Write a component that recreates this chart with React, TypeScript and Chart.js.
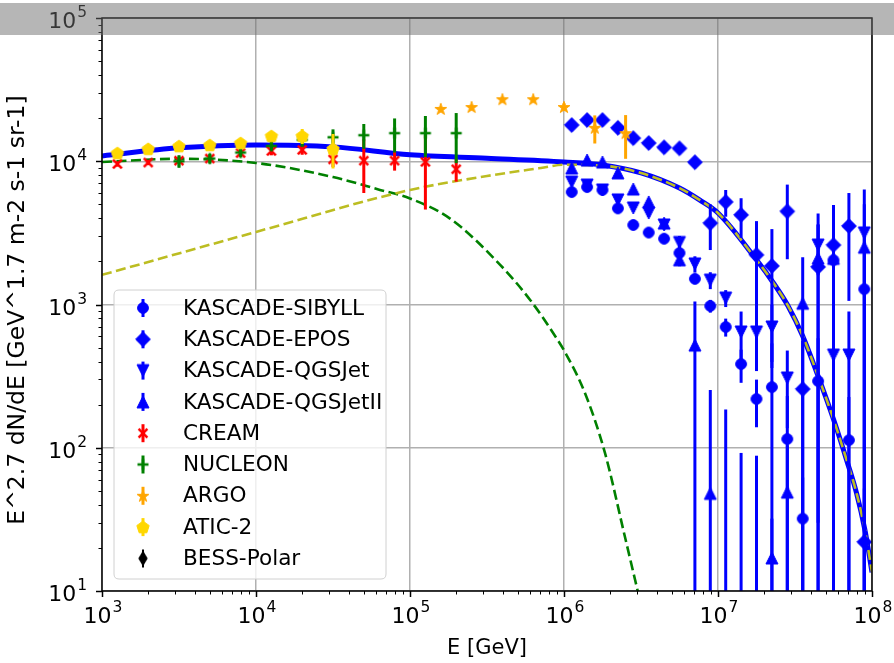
import React, { useEffect, useRef } from 'react';
import { Chart, registerables } from 'chart.js';
Chart.register(...registerables);

// ---------------- data ----------------
const KASCADE_E = [1122018, 1412538, 1778279, 2238721, 2818383, 3548134, 4466836, 5623413, 7079458, 8912509, 11220185, 14125375, 17782794, 22387211, 28183829, 35481339, 44668359, 56234133, 70794578, 89125094];
const SIBYLL = [6100, 6610, 6300, 4690, 3590, 3180, 2880, 2290, 1510, 977, 697, 384, 219, 265, 115, 32, 292, 2040, 113, 1280];
const SIBYLL_ERR = [200, 200, 200, 200, 150, 150, 150, 120, 120, 100, 100, 100, 80, 270, 115, 30, 290, 2100, 113, 1300];
const EPOS = [17900, 19400, 19400, 17100, 14500, 13400, 12500, 12300, 9850, 3700, 5200, 4220, 2220, 1860, 4470, 257, 1830, 2600, 3530, 22];
const EPOS_ERR = [600, 700, 700, 600, 500, 500, 500, 500, 500, 1300, 1100, 1300, 1600, 1500, 2400, 300, 1800, 2350, 2470, 30];
const QGSJET = [7160, 6820, 6300, 5370, 4720, 4350, 3590, 2710, 1920, 1480, 1110, 643, 643, 697, 307, null, 2600, 444, 444, 3160];
const QGSJET_ERR = [250, 250, 250, 250, 250, 250, 250, 300, 250, 200, 150, 250, 300, 300, 170, 0, 1000, 450, 450, 3200];
const QGSJETII = [8970, 10200, 9880, 8290, 6400, 5200, 3700, 2050, 521, 48, 5, 5, 5, 17, 49, 1020, 2110, 2100, null, 2510];
const QGSJETII_ERR = [300, 300, 300, 300, 300, 250, 250, 200, 530, 205, 180, 87, 83, 15, 55, 1120, 2200, 2000, 0, 2500];

const CREAM_E = [1259, 1995, 3162, 5012, 7943, 12589, 19953, 31623, 50119, 79433, 125893, 199526];
const CREAM = [9570, 9800, 10100, 10450, 11400, 11800, 12000, 10300, 10100, 10100, 9900, 8800];
const CREAM_ERR = [400, 400, 500, 600, 700, 800, 900, 1200, 4100, 1500, 5300, 1600];

const NUCLEON_E = [3162, 5012, 7943, 12589, 19953, 31623, 50119, 79433, 125893, 199526];
const NUCLEON = [10000, 10450, 11500, 12800, 14100, 14700, 15200, 15700, 15700, 15700];
const NUCLEON_ERR = [1000, 800, 700, 900, 1500, 2000, 3000, 4200, 5000, 6000];

const ARGO_E = [158489, 251189, 398107, 630957, 1000000, 1584893, 2511886];
const ARGO = [23200, 23900, 27100, 27100, 23900, 17100, 15700];
const ARGO_ERR = [700, 700, 800, 900, 1500, 3800, 5300];

const ATIC_E = [1259, 1995, 3162, 5012, 7943, 12589, 19953, 31623];
const ATIC = [11400, 12200, 12750, 12960, 13400, 15000, 15000, 12200];
const ATIC_ERR = [300, 300, 400, 500, 800, 1100, 1800, 3300];

const TOTAL_E = [1e3, 3162, 1e4, 31623, 1e5, 316228, 1e6, 1778279, 3162278, 5623413, 7585776, 1e7, 17782794, 22908677, 28510000, 35481339, 44668359, 56234133, 69183097, 79432823, 90157114, 1e8];
const TOTAL = [10900, 12400, 13000, 12600, 11100, 10500, 9890, 9420, 8290, 6500, 5370, 4350, 2050, 1413, 977, 603, 316, 158, 79, 48, 26.3, 13.5];

const LIGHT_E = [1e3, 1e4, 1e5, 316228, 707946, 1e6, 1778279, 3162278, 5623413, 7585776, 1e7, 17782794, 22908677, 28510000, 35481339, 44668359, 56234133, 69183097, 79432823, 90157114, 1e8];
const LIGHT = [1610, 3210, 6300, 7890, 8970, 9450, 9320, 8280, 6500, 5370, 4350, 2050, 1413, 977, 603, 316, 158, 79, 48, 26.3, 13.5];

const HEAVY_E = [1e3, 3162, 1e4, 31623, 63826, 1e5, 181970, 383707, 601174, 874984, 1014000, 1367729, 1845015, 2488857, 3118890];
const HEAVY = [9890, 10400, 9730, 7760, 6310, 5500, 3980, 1900, 1080, 603, 466, 241, 92, 23.8, 8.5];

const X_MAJOR = [1e3, 1e4, 1e5, 1e6, 1e7, 1e8];
const X_EXPONENTS = ['3', '4', '5', '6', '7', '8'];
const Y_MAJOR = [1e1, 1e2, 1e3, 1e4, 1e5];
const Y_EXPONENTS = ['1', '2', '3', '4', '5'];

const LEGEND_NAMES = ['KASCADE-SIBYLL', 'KASCADE-EPOS', 'KASCADE-QGSJet', 'KASCADE-QGSJetII', 'CREAM', 'NUCLEON', 'ARGO', 'ATIC-2', 'BESS-Polar'];
const X_TITLE = 'E [GeV]';
const Y_TITLE = 'E^2.7 dN/dE [GeV^1.7 m-2 s-1 sr-1]';

// ---------------- styling ----------------
const FONT = "'DejaVu Sans', 'Liberation Sans', sans-serif";
const BLUE = '#0000ff';
const RED = '#ff0000';
const GREEN = '#008000';
const ORANGE = '#ffa500';
const GOLD = '#ffd700';
const OLIVE = '#bcbd22';

type Kind = 'circle' | 'diamond' | 'triup' | 'tridown' | 'x' | 'plus' | 'star' | 'pentagon' | 'thindiamond';

function makeMarker(kind: Kind, color: string): HTMLCanvasElement {
  const S = 22;
  const c = document.createElement('canvas');
  c.width = S; c.height = S;
  const g = c.getContext('2d')!;
  const cx = S / 2, cy = S / 2;
  g.fillStyle = color; g.strokeStyle = color; g.lineWidth = 1;
  g.beginPath();
  const poly = (pts: number[][]) => { pts.forEach((p, i) => (i ? g.lineTo(cx + p[0], cy + p[1]) : g.moveTo(cx + p[0], cy + p[1]))); g.closePath(); };
  if (kind === 'circle') {
    g.arc(cx, cy, 5.4, 0, Math.PI * 2);
  } else if (kind === 'diamond') {
    poly([[0, -7.4], [7.4, 0], [0, 7.4], [-7.4, 0]]);
  } else if (kind === 'triup') {
    poly([[0, -6], [6, 6], [-6, 6]]);
  } else if (kind === 'tridown') {
    poly([[0, 6], [6, -6], [-6, -6]]);
  } else if (kind === 'pentagon') {
    const pts: number[][] = [];
    for (let i = 0; i < 5; i++) { const a = -Math.PI / 2 + i * 2 * Math.PI / 5; pts.push([6.5 * Math.cos(a), 6.5 * Math.sin(a) + 0.5]); }
    poly(pts);
  } else if (kind === 'star') {
    const pts: number[][] = [];
    for (let i = 0; i < 10; i++) { const r = i % 2 ? 2.4 : 6.2; const a = -Math.PI / 2 + i * Math.PI / 5; pts.push([r * Math.cos(a), r * Math.sin(a) + 0.5]); }
    poly(pts);
  } else if (kind === 'thindiamond') {
    poly([[0, -7], [4.2, 0], [0, 7], [-4.2, 0]]);
  }
  if (kind === 'x' || kind === 'plus') {
    g.lineWidth = 2.6;
    g.lineCap = 'butt';
    if (kind === 'x') { g.moveTo(cx - 4.4, cy - 4.4); g.lineTo(cx + 4.4, cy + 4.4); g.moveTo(cx + 4.4, cy - 4.4); g.lineTo(cx - 4.4, cy + 4.4); }
    else { g.moveTo(cx - 5.5, cy); g.lineTo(cx + 5.5, cy); g.moveTo(cx, cy - 5.5); g.lineTo(cx, cy + 5.5); }
    g.stroke();
  } else {
    g.fill(); g.stroke();
  }
  return c;
}

const LEGEND_STYLE: { kind: Kind; color: string }[] = [
  { kind: 'circle', color: BLUE },
  { kind: 'diamond', color: BLUE },
  { kind: 'tridown', color: BLUE },
  { kind: 'triup', color: BLUE },
  { kind: 'x', color: RED },
  { kind: 'plus', color: GREEN },
  { kind: 'star', color: ORANGE },
  { kind: 'pentagon', color: GOLD },
  { kind: 'thindiamond', color: '#000000' },
];

function pts(xs: number[], ys: (number | null)[]) {
  return xs.map((x, i) => ({ x, y: ys[i] }));
}

const errorBarPlugin = {
  id: 'errbars',
  beforeDatasetDraw(chart: any, args: any) {
    const ds = chart.data.datasets[args.index];
    if (!ds.errs) return;
    const { ctx, chartArea: a, scales } = chart;
    ctx.save();
    ctx.beginPath();
    ctx.rect(a.left, a.top, a.right - a.left, a.bottom - a.top);
    ctx.clip();
    ctx.strokeStyle = ds.errColor;
    ctx.lineWidth = 3;
    ds.data.forEach((p: any, i: number) => {
      if (p.y == null) return;
      const e = ds.errs[i];
      if (!e) return;
      const x = scales.x.getPixelForValue(p.x);
      const lo = p.y - e;
      const y1 = lo > 0 ? scales.y.getPixelForValue(lo) : a.bottom + 5;
      const y2 = scales.y.getPixelForValue(p.y + e);
      ctx.beginPath();
      ctx.moveTo(x, y1);
      ctx.lineTo(x, y2);
      ctx.stroke();
    });
    ctx.restore();
  },
};

function drawPow(ctx: CanvasRenderingContext2D, exp: string, x: number, baseY: number, align: 'center' | 'right') {
  ctx.font = `22px ${FONT}`;
  const w1 = ctx.measureText('10').width;
  ctx.font = `15.5px ${FONT}`;
  const w2 = ctx.measureText(exp).width;
  const total = w1 + w2 + 1;
  const x0 = align === 'center' ? x - total / 2 : x - total;
  ctx.textAlign = 'left';
  ctx.textBaseline = 'alphabetic';
  ctx.font = `22px ${FONT}`;
  ctx.fillText('10', x0, baseY);
  ctx.font = `15.5px ${FONT}`;
  ctx.fillText(exp, x0 + w1 + 1, baseY - 11);
}

const axesPlugin = {
  id: 'axesDeco',
  afterDraw(chart: any) {
    const { ctx, chartArea: a, scales } = chart;
    const xs = scales.x, ys = scales.y;
    ctx.save();
    ctx.strokeStyle = '#000';
    X_MAJOR.forEach((v) => {
      for (let m = 1; m <= 9; m++) {
        const val = v * m;
        if (val > 1e8 * 1.0001) break;
        const px = Math.round(xs.getPixelForValue(val)) + 0.5;
        const major = m === 1;
        ctx.lineWidth = major ? 1.5 : 1;
        ctx.beginPath();
        ctx.moveTo(px, a.bottom);
        ctx.lineTo(px, a.bottom + (major ? 6 : 3.5));
        ctx.stroke();
      }
    });
    Y_MAJOR.forEach((v) => {
      for (let m = 1; m <= 9; m++) {
        const val = v * m;
        if (val > 1e5 * 1.0001) break;
        const py = Math.round(ys.getPixelForValue(val)) + 0.5;
        const major = m === 1;
        ctx.lineWidth = major ? 1.5 : 1;
        ctx.beginPath();
        ctx.moveTo(a.left - (major ? 6 : 3.5), py);
        ctx.lineTo(a.left, py);
        ctx.stroke();
      }
    });
    ctx.lineWidth = 1.5;
    ctx.strokeRect(a.left, a.top, a.right - a.left, a.bottom - a.top);
    ctx.fillStyle = '#000';
    X_MAJOR.forEach((v, i) => drawPow(ctx, X_EXPONENTS[i], xs.getPixelForValue(v) + 1, a.bottom + 32, 'center'));
    Y_MAJOR.forEach((v, i) => drawPow(ctx, Y_EXPONENTS[i], a.left - 15, ys.getPixelForValue(v) + 10, 'right'));
    ctx.font = `21px ${FONT}`;
    ctx.textAlign = 'center';
    ctx.textBaseline = 'middle';
    ctx.fillText(X_TITLE, (a.left + a.right) / 2, 649);
    ctx.save();
    ctx.translate(18, 310);
    ctx.rotate(-Math.PI / 2);
    ctx.font = `23.5px ${FONT}`;
    ctx.fillText(Y_TITLE, 0, 0);
    ctx.restore();
    ctx.fillStyle = 'rgba(110,110,110,0.5)';
    ctx.fillRect(0, 3, chart.width, 32);
    ctx.restore();
  },
};

const legendPlugin = {
  id: 'customLegend',
  afterDatasetsDraw(chart: any) {
    const { ctx } = chart;
    const L = 114, T = 290, R = 386, B = 579, rad = 5;
    ctx.save();
    ctx.beginPath();
    ctx.moveTo(L + rad, T);
    ctx.lineTo(R - rad, T); ctx.quadraticCurveTo(R, T, R, T + rad);
    ctx.lineTo(R, B - rad); ctx.quadraticCurveTo(R, B, R - rad, B);
    ctx.lineTo(L + rad, B); ctx.quadraticCurveTo(L, B, L, B - rad);
    ctx.lineTo(L, T + rad); ctx.quadraticCurveTo(L, T, L + rad, T);
    ctx.closePath();
    ctx.fillStyle = 'rgba(255,255,255,0.8)';
    ctx.fill();
    ctx.strokeStyle = '#d0d0d0';
    ctx.lineWidth = 1;
    ctx.stroke();
    LEGEND_NAMES.forEach((name, i) => {
      const cy = 308 + i * 31.3;
      const st = LEGEND_STYLE[i];
      ctx.strokeStyle = st.color;
      ctx.lineWidth = st.kind === 'thindiamond' ? 2 : 3;
      ctx.beginPath();
      ctx.moveTo(143, cy - 9);
      ctx.lineTo(143, cy + 9);
      ctx.stroke();
      const m = markers[st.kind + st.color];
      ctx.drawImage(m, 143 - m.width / 2, cy - m.height / 2);
      ctx.fillStyle = '#000';
      ctx.font = `21.6px ${FONT}`;
      ctx.textAlign = 'left';
      ctx.textBaseline = 'middle';
      ctx.fillText(name, 183, cy + 1);
    });
    ctx.restore();
  },
};

const markers: Record<string, HTMLCanvasElement> = {};

export default function App() {
  const ref = useRef<HTMLCanvasElement>(null);
  useEffect(() => {
    LEGEND_STYLE.forEach((s) => { markers[s.kind + s.color] = makeMarker(s.kind, s.color); });
    const mk = (k: Kind, c: string) => markers[k + c];
    const scatter = (data: any[], errs: number[], kind: Kind, color: string, order: number) => ({
      type: 'scatter',
      data,
      errs,
      errColor: color,
      pointStyle: mk(kind, color),
      pointRadius: 6,
      pointHoverRadius: 6,
      showLine: false,
      order,
    });
    const line = (data: any[], color: string, width: number, dash: number[], order: number) => ({
      type: 'line',
      data,
      borderColor: color,
      borderWidth: width,
      borderDash: dash,
      pointRadius: 0,
      fill: false,
      showLine: true,
      cubicInterpolationMode: 'monotone',
      order,
    });
    const isMajor = (v: number) => Math.abs(Math.log10(v) - Math.round(Math.log10(v))) < 1e-6;
    const tickList = (majors: number[], max: number) => {
      const out: { value: number }[] = [];
      majors.forEach((v) => { for (let m = 1; m <= 9; m++) { if (v * m <= max * 1.0001) out.push({ value: v * m }); } });
      return out;
    };
    const chart = new Chart(ref.current!, {
      type: 'scatter',
      data: {
        datasets: [
          line(pts(TOTAL_E, TOTAL), BLUE, 5, [], 30),
          line(pts(HEAVY_E, HEAVY), GREEN, 2.6, [10, 4.5], 29),
          line(pts(LIGHT_E, LIGHT), OLIVE, 2.6, [10, 4.5], 28),
          scatter(pts(KASCADE_E, SIBYLL), SIBYLL_ERR, 'circle', BLUE, 20),
          scatter(pts(KASCADE_E, EPOS), EPOS_ERR, 'diamond', BLUE, 19),
          scatter(pts(KASCADE_E, QGSJET), QGSJET_ERR, 'tridown', BLUE, 18),
          scatter(pts(KASCADE_E, QGSJETII), QGSJETII_ERR, 'triup', BLUE, 17),
          scatter(pts(CREAM_E, CREAM), CREAM_ERR, 'x', RED, 16),
          scatter(pts(NUCLEON_E, NUCLEON), NUCLEON_ERR, 'plus', GREEN, 15),
          scatter(pts(ARGO_E, ARGO), ARGO_ERR, 'star', ORANGE, 14),
          scatter(pts(ATIC_E, ATIC), ATIC_ERR, 'pentagon', GOLD, 13),
        ] as any,
      },
      options: {
        responsive: false,
        animation: false,
        events: [],
        layout: { padding: { top: 18, right: 22, left: 0, bottom: 0 } },
        plugins: { legend: { display: false }, tooltip: { enabled: false } },
        scales: {
          x: {
            type: 'logarithmic',
            min: 1e3,
            max: 1e8,
            afterBuildTicks: (s: any) => { s.ticks = tickList(X_MAJOR, 1e8); },
            afterFit: (s: any) => { s.height = 72; },
            ticks: { display: false },
            border: { display: false },
            grid: {
              drawTicks: false,
              lineWidth: 1.5,
              color: (c: any) => (c.tick && isMajor(c.tick.value) ? '#b0b0b0' : 'rgba(0,0,0,0)'),
            },
          },
          y: {
            type: 'logarithmic',
            min: 10,
            max: 1e5,
            afterBuildTicks: (s: any) => { s.ticks = tickList(Y_MAJOR, 1e5); },
            afterFit: (s: any) => { s.width = 102; },
            ticks: { display: false },
            border: { display: false },
            grid: {
              drawTicks: false,
              lineWidth: 1.5,
              color: (c: any) => (c.tick && isMajor(c.tick.value) ? '#b0b0b0' : 'rgba(0,0,0,0)'),
            },
          },
        },
      } as any,
      plugins: [errorBarPlugin, legendPlugin, axesPlugin] as any,
    });
    return () => chart.destroy();
  }, []);
  return (
    <div style={{ position: 'fixed', left: 0, top: 0, width: 894, height: 663, background: '#fff' }}>
      <canvas ref={ref} width={894} height={663} style={{ display: 'block', width: 894, height: 663 }} />
    </div>
  );
}
